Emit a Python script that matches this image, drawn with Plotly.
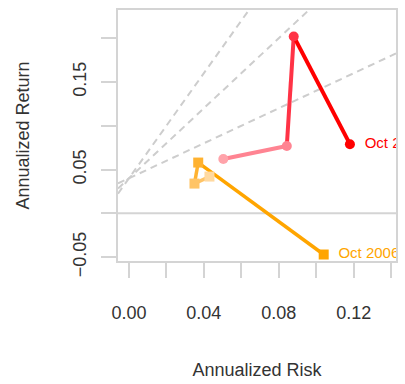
import plotly.graph_objects as go

# Rolling risk/return snail trails for two managers
risk_a = [0.0504, 0.0843, 0.0880, 0.1180]
return_a = [0.062, 0.077, 0.202, 0.079]
risk_b = [0.0430, 0.0350, 0.0370, 0.1040]
return_b = [0.042, 0.034, 0.058, -0.047]
last_label = "Oct 2006"

colors_a = ["#FFA3AA", "#FF8492", "#FF3346", "#FF0000"]
colors_b = ["#FFD9A0", "#FFC466", "#FFB230", "#FFA500"]

# Sharpe ratio reference lines: y = rf + s * x
rf = 0.04
sharpe_levels = [1, 2, 3]

x_range = [-0.00583, 0.1426]
y_range = [-0.0544, 0.2322]

x_ticks = [0.00, 0.02, 0.04, 0.06, 0.08, 0.10, 0.12, 0.14]
x_ticktext = ["0.00", "", "0.04", "", "0.08", "", "0.12", ""]
y_ticks = [-0.05, 0.00, 0.05, 0.10, 0.15, 0.20]
y_ticktext = ["\u22120.05", "", "0.05", "", "0.15", ""]

FONT = "Liberation Sans, Arial, sans-serif"
GRAY = "#D4D4D4"
TEXT = "#333333"

fig = go.Figure()

for s in sharpe_levels:
    fig.add_trace(go.Scatter(
        x=x_range, y=[rf + s * v for v in x_range], mode="lines",
        line=dict(color="#CDCDCD", width=2, dash="7px,5px"),
        hoverinfo="skip", showlegend=False))

# zero-return reference line
fig.add_trace(go.Scatter(
    x=x_range, y=[0, 0], mode="lines",
    line=dict(color=GRAY, width=2), hoverinfo="skip", showlegend=False))


def add_trail(xs, ys, cols, symbol, width):
    for i in range(1, len(xs)):
        fig.add_trace(go.Scatter(
            x=xs[i - 1:i + 1], y=ys[i - 1:i + 1], mode="lines",
            line=dict(color=cols[i], width=width),
            hoverinfo="skip", showlegend=False))
    fig.add_trace(go.Scatter(
        x=xs, y=ys, mode="markers",
        marker=dict(color=cols, size=10, symbol=symbol, line=dict(width=0)),
        showlegend=False))
    # date label beside the latest point, clipped by the plot box
    fig.add_trace(go.Scatter(
        x=xs[-1:], y=ys[-1:], mode="markers+text", text=[last_label],
        textposition="middle right", cliponaxis=True,
        marker=dict(size=22, opacity=0),
        textfont=dict(family=FONT, size=15, color=cols[-1]),
        hoverinfo="skip", showlegend=False))


add_trail(risk_a, return_a, colors_a, "circle", 4)
add_trail(risk_b, return_b, colors_b, "square", 3.5)

axis_common = dict(
    showgrid=False, zeroline=False, showline=True, mirror=True,
    linecolor=GRAY, linewidth=1.5, ticks="outside", ticklen=15,
    tickcolor=GRAY, tickwidth=1.5,
    tickfont=dict(family=FONT, size=18, color=TEXT),
    title_font=dict(family=FONT, size=18, color=TEXT),
)

fig.update_xaxes(
    range=x_range, tickvals=x_ticks, ticktext=x_ticktext,
    ticklabelstandoff=20,
    title=dict(text="Annualized Risk", standoff=41), **axis_common)
fig.update_yaxes(
    range=y_range, tickvals=y_ticks, ticktext=y_ticktext, tickangle=-90,
    ticklabelstandoff=8,
    title=dict(text="Annualized Return", standoff=36), **axis_common)

fig.update_layout(
    width=405, height=384,
    margin=dict(l=118, r=7, t=10, b=116),
    plot_bgcolor="white", paper_bgcolor="white",
)

fig.write_html("out.html")
